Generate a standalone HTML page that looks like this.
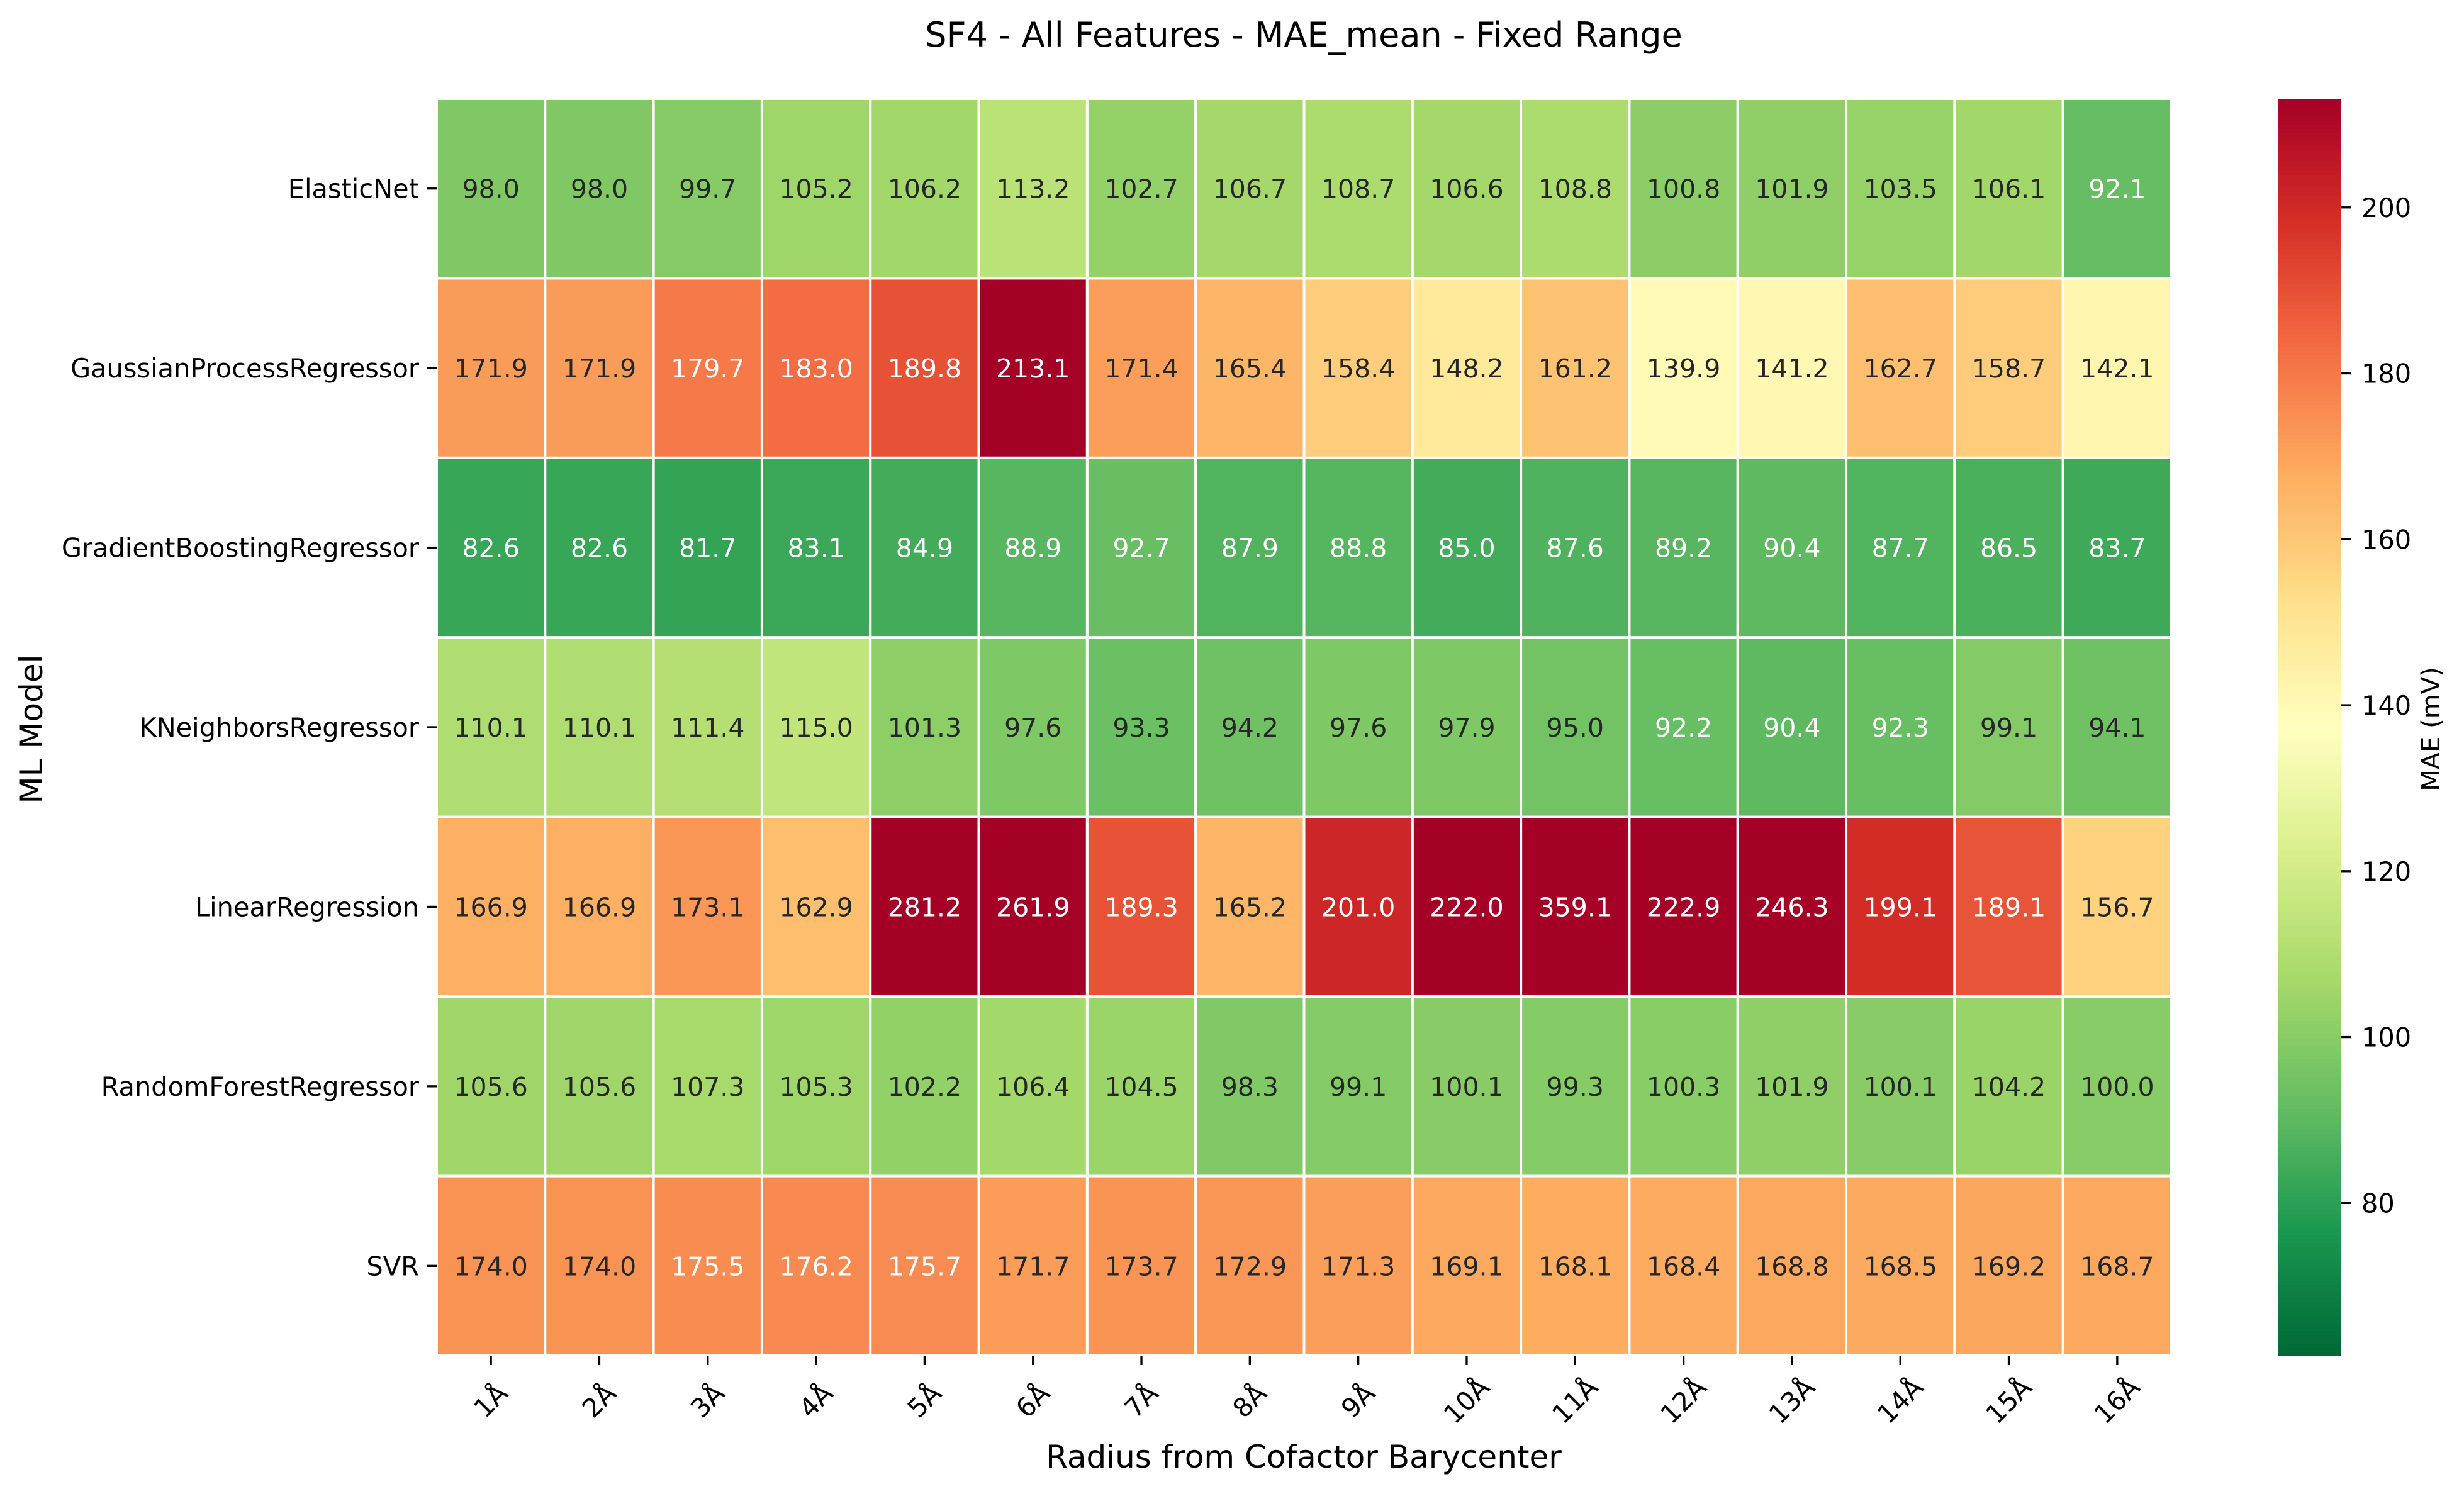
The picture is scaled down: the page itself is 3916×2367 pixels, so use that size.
<!DOCTYPE html>
<html><head><meta charset="utf-8"><style>
html,body{margin:0;padding:0;background:#fff;}
svg{display:block;font-family:"DejaVu Sans","Liberation Sans",sans-serif;}
</style></head><body>
<svg id="chart" width="3916" height="2367" viewBox="0 0 3916 2367" xmlns="http://www.w3.org/2000/svg">
<text x="2072" y="74" font-size="54" text-anchor="middle" fill="#000">SF4 - All Features - MAE_mean - Fixed Range</text>
<text x="2072" y="2333" font-size="50" text-anchor="middle" fill="#000">Radius from Cofactor Barycenter</text>
<text x="0" y="0" font-size="50" text-anchor="middle" fill="#000" transform="translate(67,1159) rotate(-90)">ML Model</text>
<text x="0" y="0" font-size="40" text-anchor="middle" fill="#000" transform="translate(3877,1159) rotate(-90)">MAE (mV)</text>
<g id="cells"></g>
<g id="yticks"></g>
<g id="xticks"></g>
<g id="cbar"></g>
</svg>
<script>
const models = ["ElasticNet","GaussianProcessRegressor","GradientBoostingRegressor","KNeighborsRegressor","LinearRegression","RandomForestRegressor","SVR"];
const radii = ["1Å","2Å","3Å","4Å","5Å","6Å","7Å","8Å","9Å","10Å","11Å","12Å","13Å","14Å","15Å","16Å"];
const rowElasticNet = [98.0,98.0,99.7,105.2,106.2,113.2,102.7,106.7,108.7,106.6,108.8,100.8,101.9,103.5,106.1,92.1];
const rowGPR = [171.9,171.9,179.7,183.0,189.8,213.1,171.4,165.4,158.4,148.2,161.2,139.9,141.2,162.7,158.7,142.1];
const rowGBR = [82.6,82.6,81.7,83.1,84.9,88.9,92.7,87.9,88.8,85.0,87.6,89.2,90.4,87.7,86.5,83.7];
const rowKNN = [110.1,110.1,111.4,115.0,101.3,97.6,93.3,94.2,97.6,97.9,95.0,92.2,90.4,92.3,99.1,94.1];
const rowLR = [166.9,166.9,173.1,162.9,281.2,261.9,189.3,165.2,201.0,222.0,359.1,222.9,246.3,199.1,189.1,156.7];
const rowRF = [105.6,105.6,107.3,105.3,102.2,106.4,104.5,98.3,99.1,100.1,99.3,100.3,101.9,100.1,104.2,100.0];
const rowSVR = [174.0,174.0,175.5,176.2,175.7,171.7,173.7,172.9,171.3,169.1,168.1,168.4,168.8,168.5,169.2,168.7];
const colorRange = [61.6, 213.1];
const cbarTicks = [80,100,120,140,160,180,200];

const rows = [rowElasticNet,rowGPR,rowGBR,rowKNN,rowLR,rowRF,rowSVR];
const NS = "http://www.w3.org/2000/svg";
const L = 694, R = 3451, T = 157, B = 2155;
const cw = (R-L)/radii.length, ch = (B-T)/models.length;
const xPos = i => L + i*cw;
const yPos = j => T + j*ch;
const anchors = ["#006837","#1a9850","#66bd63","#a6d96a","#d9ef8b","#ffffbf","#fee08b","#fdae61","#f46d43","#d73027","#a50026"].map(h=>[1,3,5].map(k=>parseInt(h.substr(k,2),16)));
function cmap(v){
  let t=(v-colorRange[0])/(colorRange[1]-colorRange[0]); t=Math.max(0,Math.min(1,t));
  const p=t*10, i=Math.min(9,Math.floor(p)), f=p-i;
  return anchors[i].map((c,k)=>Math.round(c+(anchors[i+1][k]-c)*f));
}
function lum(c){const l=c.map(x=>{x/=255;return x<=0.03928?x/12.92:Math.pow((x+0.055)/1.055,2.4);});return 0.2126*l[0]+0.7152*l[1]+0.0722*l[2];}
function mk(tag,attrs,parent){const e=document.createElementNS(NS,tag);for(const k in attrs)e.setAttribute(k,attrs[k]);parent.appendChild(e);return e;}
const cells=document.getElementById('cells');
rows.forEach((row,j)=>{row.forEach((v,i)=>{
  const c=cmap(v);
  const r=mk('rect',{x:xPos(i),y:yPos(j),width:cw,height:ch,fill:`rgb(${c})`,stroke:'#fff','stroke-width':4},cells);
  
  
  const t=mk('text',{x:xPos(i)+cw/2,y:yPos(j)+ch/2+15,'font-size':41,'text-anchor':'middle',fill:lum(c)<0.408?'#fff':'#262626'},cells);
  t.textContent=v.toFixed(1);
  
  
});});
const yt=document.getElementById('yticks');
models.forEach((m,j)=>{
  const y=yPos(j)+ch/2;
  const tk=mk('line',{x1:L-15,x2:L,y1:y,y2:y,stroke:'#000','stroke-width':3.3},yt);
  
  
  const t=mk('text',{x:L-28,y:y+15,'font-size':41.5,'text-anchor':'end',fill:'#000'},yt);
  t.textContent=m;
  
  
});
const xt=document.getElementById('xticks');
radii.forEach((r,i)=>{
  const x=xPos(i)+cw/2;
  const tk=mk('line',{x1:x,x2:x,y1:B,y2:B+15,stroke:'#000','stroke-width':3.3},xt);
  
  
  const t=mk('text',{x:0,y:0,'font-size':41.5,'text-anchor':'middle',fill:'#000',transform:`translate(${x},${B+72}) rotate(-45)`},xt);
  t.setAttribute('dy','14');
  t.textContent=r;
  
  
});
const cb=document.getElementById('cbar');
const CL=3621, CR=3721, N=300;
for(let k=0;k<N;k++){
  const v=colorRange[0]+(k+0.5)/N*(colorRange[1]-colorRange[0]);
  const y=B-(k+1)*(B-T)/N;
  const s=mk('rect',{x:CL,y:y,width:CR-CL,height:(B-T)/N+1,fill:`rgb(${cmap(v)})`},cb);
  
  
}
const cy=v=>B-(v-colorRange[0])/(colorRange[1]-colorRange[0])*(B-T);
cbarTicks.forEach(v=>{
  const y=cy(v);
  const tk=mk('line',{x1:CR,x2:CR+15,y1:y,y2:y,stroke:'#000','stroke-width':3.3},cb);
  
  
  const t=mk('text',{x:CR+32,y:y+15,'font-size':41.5,fill:'#000'},cb);
  t.textContent=v;
  
  
});
</script>
</body></html>
